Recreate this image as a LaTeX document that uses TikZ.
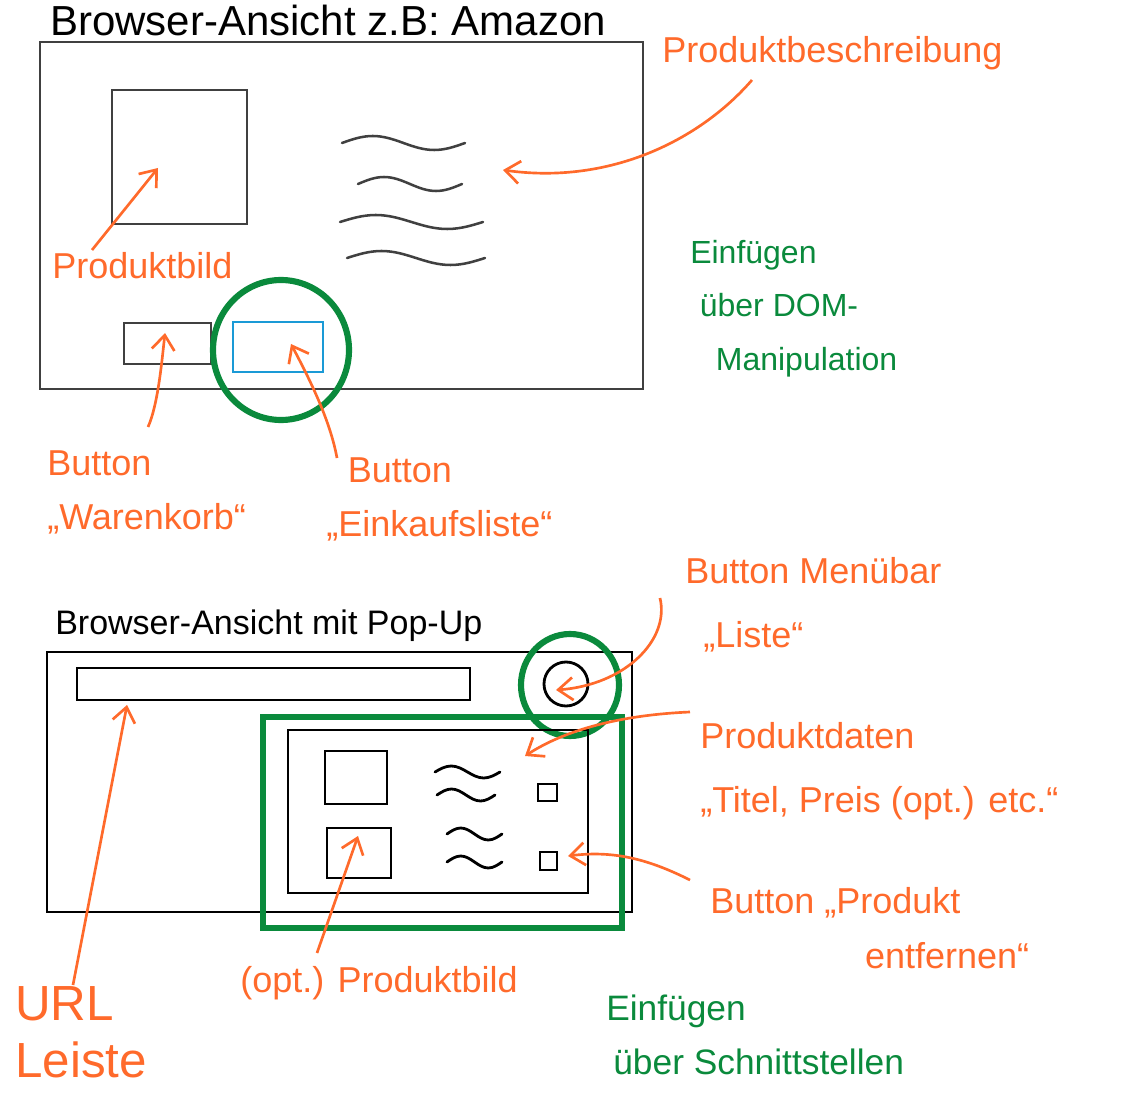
\documentclass[tikz,border=0pt]{standalone}
\usepackage{fontspec}
\setmainfont{Liberation Sans}
\usetikzlibrary{arrows.meta}

\definecolor{sketchorange}{HTML}{FF6A2B}
\definecolor{sketchgreen}{HTML}{0A8A3C}
\definecolor{sketchblue}{HTML}{1A9AD6}
\definecolor{sketchgray}{HTML}{404040}

\tikzset{
  frame/.style={draw=sketchgray, line width=1.9},
  pen/.style={draw=black, line width=2.1},
  ring/.style={draw=sketchgreen, line width=4.6},
  pointer/.style={draw=sketchorange, line width=2, -{Straight Barb[length=11pt,width=17pt]}},
  note/.style={anchor=north west, inner sep=0pt, text=sketchorange, align=left,
    font=\fontsize{27}{41}\selectfont},
  hint/.style={anchor=north west, inner sep=0pt, text=sketchgreen, align=left,
    font=\fontsize{24}{40}\selectfont},
  heading/.style={anchor=north west, inner sep=0pt, text=black}
}

\begin{document}
\begin{tikzpicture}[x=0.75pt,y=0.75pt,yscale=-1,xscale=1]
    \useasboundingbox (0,0) rectangle (1143,1098);

    %% ---------- upper sketch: browser view ----------
    \node[heading, font=\fontsize{31.5}{36}\selectfont] (titleamazon) at (50,5) {Browser-Ansicht z.B: Amazon};
    % window
    \draw[frame] (40,42) rectangle (643,389);
    % product image
    \draw[frame] (112,90) rectangle (247,224);
    % description lines
    \foreach \wx/\wy/\ww in {342/143/123, 358/184/104, 340/222/143, 347/258/138}
      \draw[frame, line cap=round] (\wx,\wy) sin ++(\ww/4,-7) cos ++(\ww/4,7) sin ++(\ww/4,7) cos ++(\ww/4,-7);
    % buttons
    \draw[frame] (124,323) rectangle (211,364);
    \draw[draw=sketchblue, line width=1.9] (233,322) rectangle (323,372);
    \draw[ring] (281,350) ellipse [x radius=68, y radius=70];

    % labels
    \node[note] (beschreibung) at (662,36) {Produktbeschreibung};
    \node[note] (bildlabel) at (52,252) {Produktbild};
    \node[note] (warenkorb) at (47,450) {Button\\„Warenkorb“};
    \node[note] (einkauf) at (326,457) {\hspace*{0.6em}Button\\„Einkaufsliste“};
    \node[hint] (dom) at (690,240) {Einfügen\\\hspace*{0.3em}über DOM-\\\hspace*{0.8em}Manipulation};

    % arrow ends
    \coordinate (beschreibungfrom) at (752,80);
    \coordinate (textblock) at (503,170);
    \coordinate (bildfrom) at (92,250);
    \coordinate (bildtip) at (158,168);
    \coordinate (warenfrom) at (148,427);
    \coordinate (warentip) at (165,333);
    \coordinate (einkauffrom) at (337,458);
    \coordinate (einkauftip) at (291,344);

    \draw[pointer] (beschreibungfrom) .. controls (700,140) and (610,185) .. (textblock);
    \draw[pointer] (bildfrom) -- (bildtip);
    \draw[pointer] (warenfrom) .. controls (158,405) and (162,360) .. (warentip);
    \draw[pointer] (einkauffrom) .. controls (330,420) and (310,380) .. (einkauftip);

    %% ---------- lower sketch: pop-up ----------
    \node[heading, font=\fontsize{25.5}{30}\selectfont] (titlepopup) at (55,610) {Browser-Ansicht mit Pop-Up};
    % window and url bar
    \draw[pen] (47,652) rectangle (632,912);
    \draw[pen] (77,668) rectangle (470,700);
    % menu bar button
    \draw[pen] (566,684) circle [radius=22];
    \draw[ring] (570,685) ellipse [x radius=49, y radius=51];
    % pop-up
    \draw[pen] (288,730) rectangle (588,893);
    \draw[pen] (325,751) rectangle (387,804);
    \draw[pen] (327,828) rectangle (391,878);
    \foreach \wx/\wy/\ww in {435/772/65, 437/795/58, 447/834/55, 447/862/55}
      \draw[pen, line cap=round] (\wx,\wy) sin ++(\ww/4,-6) cos ++(\ww/4,6) sin ++(\ww/4,6) cos ++(\ww/4,-6);
    \draw[pen] (538,784) rectangle (557,801);
    \draw[pen] (540,852) rectangle (557,870);
    \draw[ring] (263,717) rectangle (622,928);

    % labels
    \node[note, font=\fontsize{27}{48}\selectfont] (menubar) at (685,557) {Button Menübar\\\hspace*{0.5em}„Liste“};
    \node[note, font=\fontsize{27}{48}\selectfont] (produktdaten) at (700,722) {Produktdaten\\„Titel, Preis (opt.) etc.“};
    \node[note] (entfernen) at (710,887) {Button „Produkt\\\hspace*{4.3em}entfernen“};
    \node[note] (optbild) at (240,966) {(opt.) Produktbild};
    \node[note, font=\fontsize{37}{43}\selectfont] (urlleiste) at (15,986) {URL\\Leiste};
    \node[hint, font=\fontsize{26.5}{40}\selectfont] (schnittstellen) at (606,995) {Einfügen\\\hspace*{0.2em}über Schnittstellen};

    % arrow ends
    \coordinate (menufrom) at (660,598);
    \coordinate (menutip) at (556,690);
    \coordinate (datenfrom) at (690,712);
    \coordinate (datentip) at (525,756);
    \coordinate (entfernenfrom) at (690,880);
    \coordinate (entfernentip) at (568,856);
    \coordinate (optfrom) at (317,953);
    \coordinate (opttip) at (358,836);
    \coordinate (urlfrom) at (73,985);
    \coordinate (urltip) at (127,705);

    \draw[pointer] (menufrom) .. controls (670,640) and (625,685) .. (menutip);
    \draw[pointer] (datenfrom) .. controls (620,715) and (565,730) .. (datentip);
    \draw[pointer] (entfernenfrom) .. controls (650,860) and (615,850) .. (entfernentip);
    \draw[pointer] (optfrom) -- (opttip);
    \draw[pointer] (urlfrom) -- (urltip);
\end{tikzpicture}
\end{document}
